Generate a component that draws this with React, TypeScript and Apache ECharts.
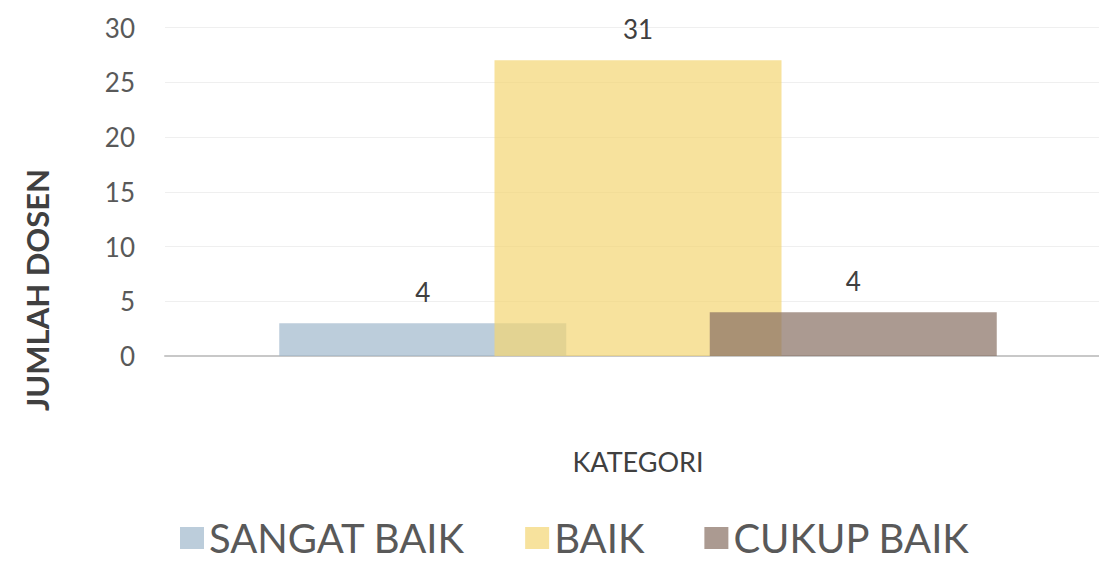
import React, { useEffect, useRef } from "react";
import * as echarts from "echarts";

const categories = [""];
const seriesNames = ["SANGAT BAIK", "BAIK", "CUKUP BAIK"];
const barValues = [3, 27, 4];
const barLabels = ["4", "31", "4"];
const seriesColors = ["rgba(159,184,204,0.7)", "rgba(244,214,116,0.7)", "rgba(136,111,99,0.7)"];
const yTicks = [0, 5, 10, 15, 20, 25, 30];

export default function App() {
  const ref = useRef<HTMLDivElement>(null);
  useEffect(() => {
    if (!ref.current) return;
    const chart = echarts.init(ref.current, null, { renderer: "svg" });
    const font = "Lato";
    chart.setOption({
      animation: false,
      backgroundColor: "#ffffff",
      textStyle: { fontFamily: font },
      grid: { left: 165, right: 0, top: 27.5, bottom: 206, containLabel: false },
      legend: {
        bottom: 4,
        left: 180,
        padding: 0,
        itemWidth: 24,
        itemHeight: 22,
        itemGap: 60,
        icon: "rect",
        textStyle: { fontSize: 40, color: "#595959", fontFamily: font },
        data: seriesNames,
      },
      xAxis: {
        type: "category",
        data: categories,
        name: "KATEGORI",
        nameLocation: "middle",
        nameGap: 92,
        nameTextStyle: { fontSize: 27, color: "#404040", fontFamily: font },
        axisLine: { lineStyle: { color: "#c8c8c8", width: 2 } },
        axisTick: { show: false },
        axisLabel: { show: false },
      },
      yAxis: {
        type: "value",
        min: yTicks[0],
        max: yTicks[yTicks.length - 1],
        interval: 5,
        axisLine: { show: false },
        axisTick: { show: false },
        axisLabel: { fontSize: 26, color: "#595959", margin: 30, fontFamily: font },
        splitLine: { lineStyle: { color: "#efefef", width: 1 } },
      },
      graphic: [
        {
          type: "text",
          x: 37,
          y: 290,
          rotation: Math.PI / 2,
          style: {
            text: "JUMLAH DOSEN",
            fontSize: 31,
            fontWeight: "bold",
            fontFamily: font,
            fill: "#404040",
            align: "center",
            verticalAlign: "middle",
          },
        },
      ],
      series: seriesNames.map((name, i) => ({
        name,
        type: "bar",
        barWidth: 287,
        barGap: "-25%",
        itemStyle: { color: seriesColors[i] },
        label: {
          show: true,
          position: "top",
          distance: 18,
          fontSize: 26,
          color: "#404040",
          fontFamily: font,
          formatter: () => barLabels[i],
        },
        data: [barValues[i]],
      })),
    });
    return () => chart.dispose();
  }, []);
  return (
    <div
      ref={ref}
      style={{ position: "fixed", left: 0, top: 0, width: 1111, height: 562 }}
    />
  );
}
